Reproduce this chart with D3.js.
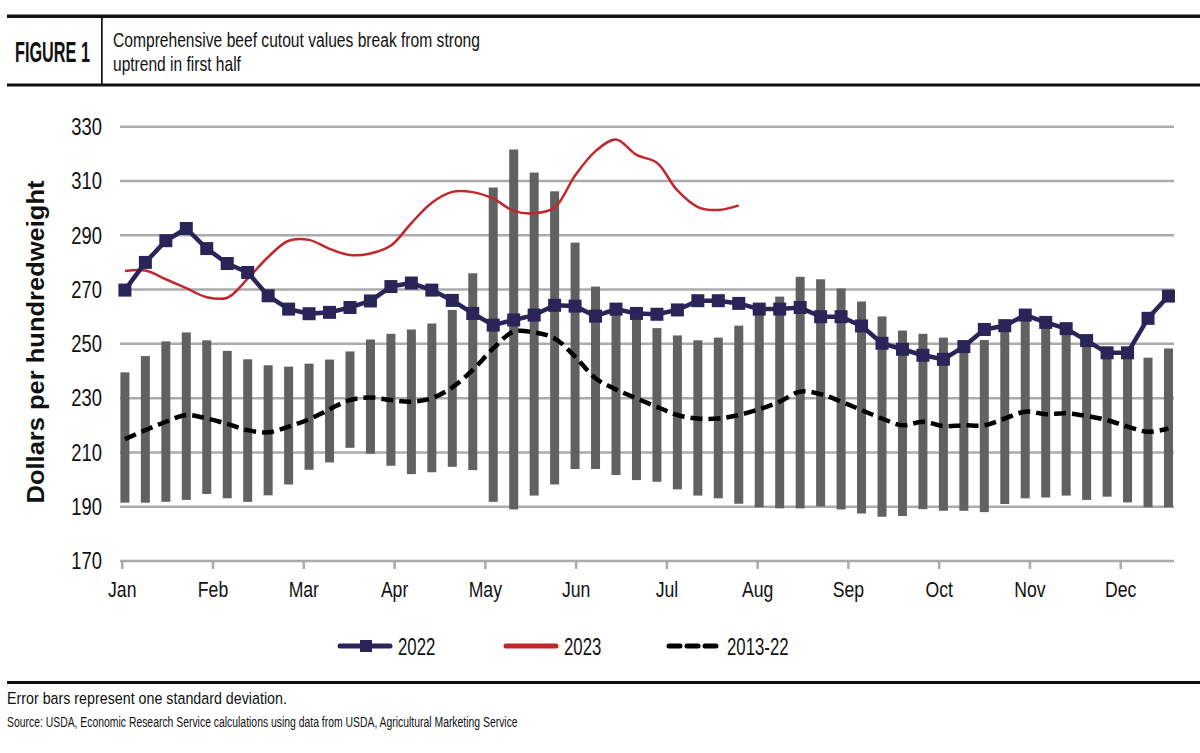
<!DOCTYPE html>
<html>
<head>
<meta charset="utf-8">
<script src="https://cdn.jsdelivr.net/npm/d3@7/dist/d3.min.js"></script>
<style>
  html, body { margin: 0; padding: 0; background: #fff; }
  svg { display: block; }
</style>
</head>
<body>
<div id="main-container"></div>
<script>
// Data (weekly, Jan → Dec)
const MONTHS = ['Jan', 'Feb', 'Mar', 'Apr', 'May', 'Jun', 'Jul', 'Aug', 'Sep', 'Oct', 'Nov', 'Dec'];
const Y_TICKS = [170, 190, 210, 230, 250, 270, 290, 310, 330];

// error bar top / bottom (one standard deviation around 2013-22 average)
const SD_HIGH = [239.5, 245.5, 250.9, 254.2, 251.3, 247.4, 244.3, 242.1, 241.6, 242.7, 244.2, 247.2, 251.6,
    253.7, 255.3, 257.5, 262.5, 276, 307.6, 321.6, 313.1, 306.2, 287.3, 271.1, 262, 259, 255.8, 253.1, 251.3,
    252.3, 256.7, 265, 267.4, 274.7, 273.8, 270.4, 265.6, 260.1, 254.9, 253.7, 252.3, 250.5, 251.4, 257, 260,
    256, 254, 250, 246.5, 246, 244.9, 248.3];
const SD_LOW = [191.5, 191.5, 191.8, 192.5, 194.7, 193.1, 191.8, 194.2, 198.2, 203.6, 206.3, 211.7, 209.5,
    205.1, 202, 202.7, 204.7, 203.5, 191.8, 189, 194.1, 198.2, 203.9, 203.9, 201.7, 199.8, 199.2, 196.4, 194.1,
    193.1, 191.1, 189.8, 189.4, 189.4, 190.1, 189, 187.5, 186.3, 186.6, 189.1, 188.5, 188.5, 188, 191, 193.1,
    193.4, 194.1, 192.5, 193.7, 191.6, 189.8, 189.8];

const VALUES_2022 = [269.8, 280, 288, 292.5, 285.1, 279.6, 276.3, 267.7, 262.8, 261.1, 261.6, 263.4, 265.8,
    271.1, 272.4, 269.8, 266, 261.2, 256.9, 258.8, 260.6, 264.2, 263.9, 260.2, 262.8, 261.2, 260.9, 262.5,
    265.9, 265.9, 264.9, 262.8, 262.8, 263.4, 260, 260, 256.6, 250.2, 248, 245.8, 244.3, 249, 255.3, 256.7,
    260.6, 257.9, 255.6, 251.2, 246.7, 246.7, 259.4, 267.6];

const VALUES_2023 = [276.8, 277, 273.8, 270.5, 267.2, 267, 274, 282, 288, 288.3, 285, 282.7, 283.3, 286.2,
    294.5, 302, 306, 305.9, 303.5, 299, 298.1, 300.2, 312, 321, 325.3, 319.6, 316.7, 306.5, 300.4, 299.3, 301];

const AVG_2013_22 = [214.9, 218.2, 221.3, 223.8, 222.5, 220.5, 218.2, 217.4, 219.5, 222.2, 225.9, 229.3, 230.2,
    229.3, 228.7, 230, 234, 240.4, 248.3, 254.5, 254.2, 252, 245.3, 237.3, 233.2, 229.9, 226.8, 223.8, 222.5,
    222.5, 223.8, 225.9, 228.7, 232.4, 231.5, 228.7, 225.6, 222.5, 220, 221.3, 219.7, 220, 220, 222.5, 225,
    224.1, 224.4, 223.4, 221.9, 219.5, 217.6, 218.8];

const LEGEND_ITEMS = [
    { key: '2022', label: '2022' },
    { key: '2023', label: '2023' },
    { key: 'avg', label: '2013-22' }
];

// Layout
const SVG_WIDTH = 1200;
const SVG_HEIGHT = 753;
const PLOT = { left: 120, right: 1174, top: 126.7, bottom: 561 };
const WEEKS_PER_MONTH = 4.436;   // month ticks are evenly spaced on this chart
const COLORS = { y2022: '#2a2558', y2023: '#c1272d', avg: '#000', bars: '#616161', grid: '#ababab' };
const SANS = "'Liberation Sans', Arial, sans-serif";
const NARROW_X = 0.8;   // no condensed face installed, so squeeze horizontally

const SVG = d3.select('#main-container').append('svg')
    .attr('width', SVG_WIDTH)
    .attr('height', SVG_HEIGHT);

SVG.append('rect').attr('width', SVG_WIDTH).attr('height', SVG_HEIGHT).attr('fill', '#fff');

// Helper: squeeze a left-anchored text horizontally so it spans `width` px
function fitText(parent, x, y, width, font, str) {
    const t = parent.append('text')
        .style('font', font)
        .attr('fill', '#111')
        .text(str);
    const natural = t.node().getComputedTextLength();
    t.attr('transform', `translate(${x}, ${y}) scale(${width / natural}, 1)`);
    return t;
}

// Scales
const X = d3.scaleLinear().domain([-0.24, 51.27]).range([PLOT.left, PLOT.right]);
const Y = d3.scaleLinear().domain([170, 330]).range([PLOT.bottom, PLOT.top]);
const monthPos = MONTHS.map((m, i) => -0.13 + i * WEEKS_PER_MONTH);

// Header
const HEADER = SVG.append('g').attr('id', 'header');
HEADER.append('rect').attr('x', 7).attr('y', 14.5).attr('width', SVG_WIDTH - 7).attr('height', 3.5).attr('fill', '#111');
HEADER.append('rect').attr('x', 7).attr('y', 83.5).attr('width', SVG_WIDTH - 7).attr('height', 3).attr('fill', '#111');
HEADER.append('rect').attr('x', 101).attr('y', 18).attr('width', 1.7).attr('height', 66).attr('fill', '#111');
fitText(HEADER, 15, 62, 75, `bold 29px ${SANS}`, 'FIGURE 1');
fitText(HEADER, 113, 47, 367, `21px ${SANS}`, 'Comprehensive beef cutout values break from strong');
fitText(HEADER, 113, 71, 128, `21px ${SANS}`, 'uptrend in first half');

// Grid + y labels
const GRID = SVG.append('g').attr('id', 'grid');
GRID.selectAll('line')
    .data(Y_TICKS)
    .join('line')
    .attr('x1', PLOT.left).attr('x2', PLOT.right)
    .attr('y1', d => Y(d)).attr('y2', d => Y(d))
    .attr('stroke', COLORS.grid)
    .attr('stroke-width', 2.5);

GRID.selectAll('text')
    .data(Y_TICKS)
    .join('text')
    .attr('transform', d => `translate(102, ${Y(d)}) scale(${NARROW_X}, 1)`)
    .attr('dy', '0.36em')
    .attr('text-anchor', 'end')
    .style('font', `23px ${SANS}`)
    .attr('fill', '#111')
    .text(d => d);

// x axis ticks + month labels
const XAXIS = SVG.append('g').attr('id', 'x-axis');
XAXIS.selectAll('line')
    .data(monthPos)
    .join('line')
    .attr('x1', d => X(d)).attr('x2', d => X(d))
    .attr('y1', PLOT.bottom).attr('y2', PLOT.bottom + 8)
    .attr('stroke', COLORS.grid)
    .attr('stroke-width', 2.5);
XAXIS.selectAll('text')
    .data(MONTHS)
    .join('text')
    .attr('transform', (d, i) => `translate(${X(monthPos[i])}, 597) scale(${NARROW_X}, 1)`)
    .attr('text-anchor', 'middle')
    .style('font', `22px ${SANS}`)
    .attr('fill', '#111')
    .text(d => d);

// y axis title
SVG.append('text')
    .attr('transform', `translate(44, 342) rotate(-90)`)
    .attr('text-anchor', 'middle')
    .attr('textLength', 323).attr('lengthAdjust', 'spacingAndGlyphs')
    .style('font', `bold 23px ${SANS}`)
    .attr('fill', '#111')
    .text('Dollars per hundredweight');

// Error bars
const BAR_WIDTH = 9;
SVG.append('g').attr('id', 'bars')
    .selectAll('rect')
    .data(SD_HIGH.map((h, i) => ({ i, h, l: SD_LOW[i] })))
    .join('rect')
    .attr('x', d => X(d.i) - BAR_WIDTH / 2)
    .attr('y', d => Y(d.h))
    .attr('width', BAR_WIDTH)
    .attr('height', d => Y(d.l) - Y(d.h))
    .attr('fill', COLORS.bars);

// Lines
const smoothLine = d3.line()
    .x((d, i) => X(i))
    .y(d => Y(d))
    .curve(d3.curveCatmullRom.alpha(0.5));

SVG.append('path')
    .attr('d', smoothLine(AVG_2013_22))
    .attr('fill', 'none')
    .attr('stroke', COLORS.avg)
    .attr('stroke-width', 4.5)
    .attr('stroke-dasharray', '12,6');

SVG.append('path')
    .attr('d', smoothLine(VALUES_2023))
    .attr('fill', 'none')
    .attr('stroke', COLORS.y2023)
    .attr('stroke-width', 2.5);

const straightLine = d3.line()
    .x((d, i) => X(i))
    .y(d => Y(d));

SVG.append('path')
    .attr('d', straightLine(VALUES_2022))
    .attr('fill', 'none')
    .attr('stroke', COLORS.y2022)
    .attr('stroke-width', 4.5)
    .attr('stroke-linejoin', 'round');

const MARKER = 13;
SVG.append('g').attr('id', 'markers-2022')
    .selectAll('rect')
    .data(VALUES_2022)
    .join('rect')
    .attr('x', (d, i) => X(i) - MARKER / 2)
    .attr('y', d => Y(d) - MARKER / 2)
    .attr('width', MARKER)
    .attr('height', MARKER)
    .attr('fill', COLORS.y2022);

// Legend
const LEGEND = SVG.append('g').attr('id', 'legend').attr('transform', 'translate(340, 646)');
const LEGEND_SPACING = 166;
const LEGEND_G = LEGEND.selectAll('g')
    .data(LEGEND_ITEMS)
    .join('g')
    .attr('transform', (d, i) => `translate(${i * LEGEND_SPACING + (i === 2 ? -3 : 0)}, 0)`);

LEGEND_G.append('line')
    .attr('x1', 0).attr('x2', 50)
    .attr('y1', 0).attr('y2', 0)
    .attr('stroke', d => d.key === '2022' ? COLORS.y2022 : d.key === '2023' ? COLORS.y2023 : COLORS.avg)
    .attr('stroke-width', 5)
    .attr('stroke-linecap', 'round')
    .attr('stroke-dasharray', d => d.key === 'avg' ? '11,7' : null);

LEGEND_G.filter(d => d.key === '2022')
    .append('rect')
    .attr('x', 26 - 6).attr('y', -6)
    .attr('width', 12).attr('height', 12)
    .attr('fill', COLORS.y2022);

LEGEND_G.append('text')
    .attr('transform', 'translate(58, 9) scale(0.7, 1)')
    .style('font', `24px ${SANS}`)
    .attr('fill', '#111')
    .text(d => d.label);

// Footer
const FOOTER = SVG.append('g').attr('id', 'footer');
FOOTER.append('rect').attr('x', 7).attr('y', 681).attr('width', SVG_WIDTH - 7).attr('height', 3).attr('fill', '#111');
fitText(FOOTER, 7, 703.5, 280, `17px ${SANS}`, 'Error bars represent one standard deviation.');
fitText(FOOTER, 7, 727, 511, `14.5px ${SANS}`,
    'Source: USDA, Economic Research Service calculations using data from USDA, Agricultural Marketing Service');
</script>
</body>
</html>
